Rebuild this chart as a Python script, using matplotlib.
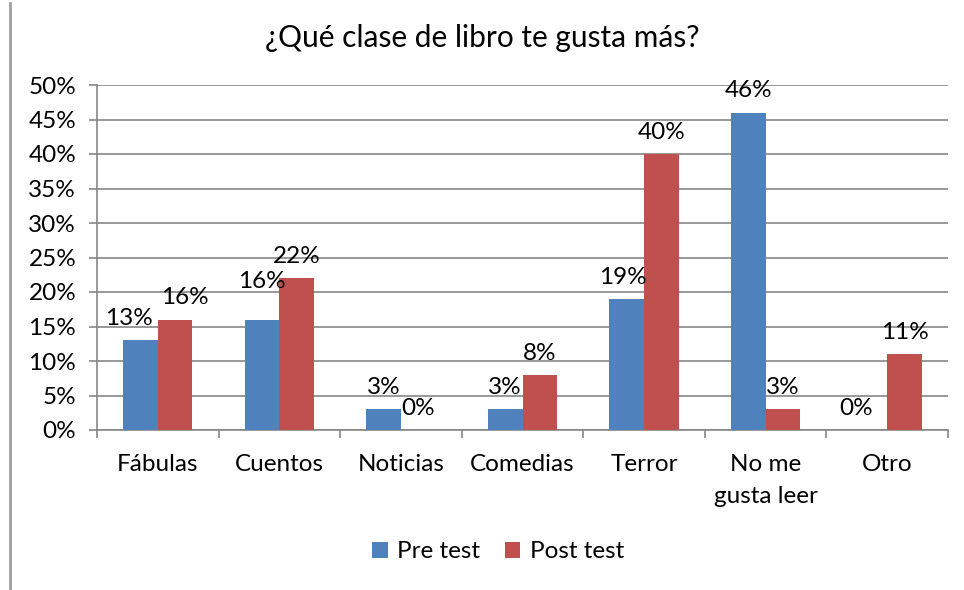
import numpy as np
import matplotlib
matplotlib.use('Agg')
import matplotlib.pyplot as plt
from matplotlib.lines import Line2D
from matplotlib.ticker import PercentFormatter

plt.rcParams['font.family'] = ['Lato', 'DejaVu Sans']

categories = ['Fábulas', 'Cuentos', 'Noticias', 'Comedias', 'Terror',
              'No me\ngusta leer', 'Otro']
pre_test = [13, 16, 3, 3, 19, 46, 0]
post_test = [16, 22, 0, 8, 40, 3, 11]
series_names = ['Pre test', 'Post test']
title = '¿Qué clase de libro te gusta más?'

blue = '#4f81bd'
red = '#c0504d'
grid = '#868686'
fs = 17.5

fig = plt.figure(figsize=(9.64, 5.9), dpi=100)
ax = fig.add_axes([97 / 964, 1 - 430 / 590, (948 - 97) / 964, (430 - 85) / 590])

x = np.arange(len(categories))
w = 0.285
b1 = ax.bar(x - w / 2, pre_test, w, color=blue, label=series_names[0], zorder=3)
b2 = ax.bar(x + w / 2, post_test, w, color=red, label=series_names[1], zorder=3)

# data labels (small nudges where Excel pushed them apart)
nudge_pre = [-8, 0, 0, 0, -3, 0, -10]
nudge_post = [7, 0, 0, 0, 0, 0, 0]
lift_pre = [8, 20, 8, 8, 8, 8, 8]
for i, v in enumerate(pre_test):
    ax.annotate(f'{v}%', (x[i] - w / 2, v), xytext=(nudge_pre[i], lift_pre[i]),
                textcoords='offset points', ha='center', va='bottom', fontsize=fs)
for i, v in enumerate(post_test):
    ax.annotate(f'{v}%', (x[i] + w / 2, v), xytext=(nudge_post[i], 8),
                textcoords='offset points', ha='center', va='bottom', fontsize=fs)

ax.set_xlim(-0.5, len(categories) - 0.5)
ax.set_ylim(0, 50)
ax.set_yticks(np.arange(0, 51, 5))
ax.yaxis.set_major_formatter(PercentFormatter(decimals=0))
ax.yaxis.grid(True, color=grid, linewidth=1.2, zorder=0)

ax.set_xticks(np.arange(-0.5, len(categories), 1))
ax.set_xticklabels([])
ax.set_xticks(x, minor=True)
ax.set_xticklabels(categories, minor=True, fontsize=fs, linespacing=1.65)
ax.tick_params(axis='x', which='minor', length=0, pad=17)
ax.tick_params(axis='x', which='major', length=6, color=grid, width=1.2)
ax.tick_params(axis='y', length=6, color=grid, width=1.2, labelsize=fs, pad=9)

for s in ['top', 'right']:
    ax.spines[s].set_visible(False)
for s in ['left', 'bottom']:
    ax.spines[s].set_color(grid)
    ax.spines[s].set_linewidth(1.2)

fig.text(0.5, 1 - 38 / 590, title, ha='center', va='center', fontsize=21.5)

fig.legend(handles=[b1, b2], loc='center', bbox_to_anchor=(498 / 964, 1 - 552 / 590),
           ncol=2, frameon=False, fontsize=fs, handlelength=0.65, handleheight=0.65,
           handletextpad=0.4, columnspacing=1.0)

fig.add_artist(Line2D([9.5 / 964, 9.5 / 964], [0, 1 - 3 / 590],
                      transform=fig.transFigure, color='#a0a0a0', linewidth=2))

fig.savefig('out.png', dpi=100)
